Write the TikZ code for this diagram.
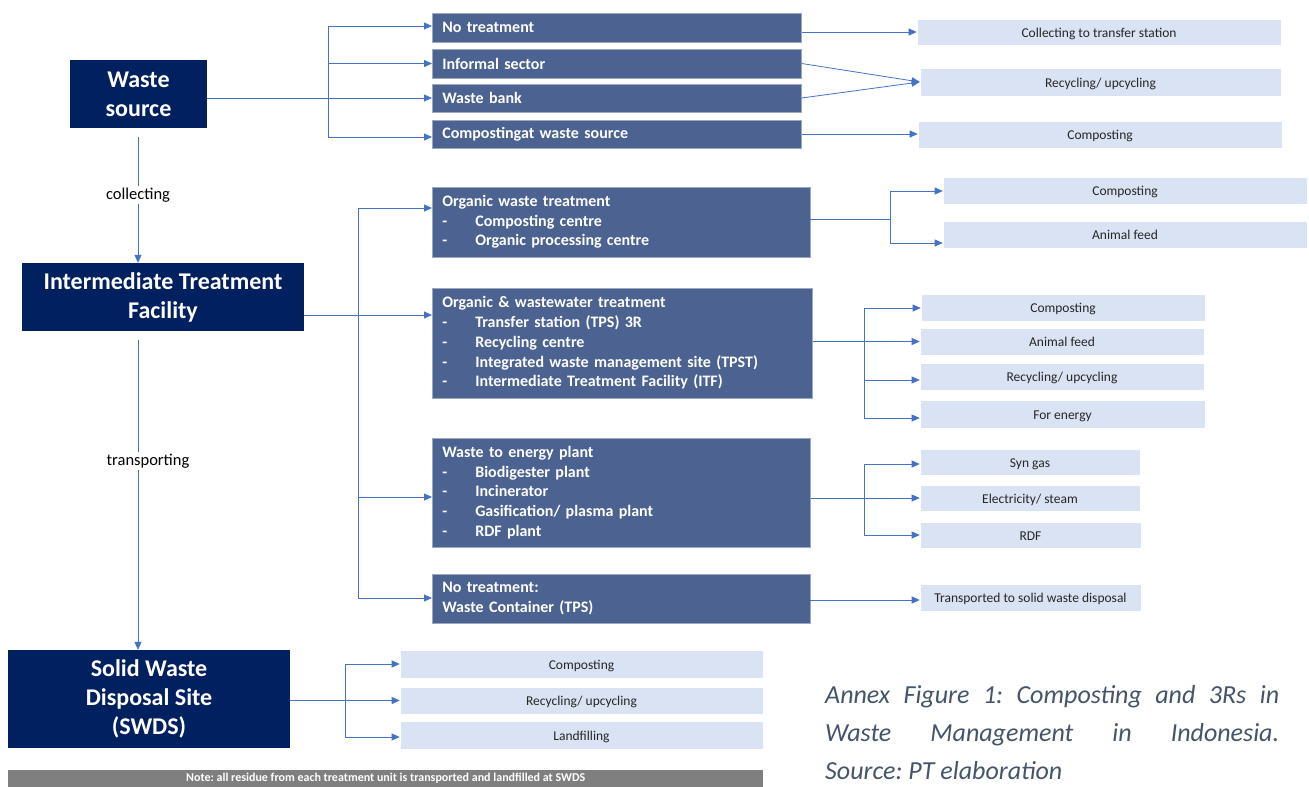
\documentclass[tikz,border=0pt]{standalone}
\usepackage{fontspec}
\setmainfont{Carlito}
\usetikzlibrary{arrows.meta,calc}
\definecolor{navy}{HTML}{002060}
\definecolor{midc}{HTML}{4C6290}
\definecolor{midb}{HTML}{9AA8C4}
\definecolor{lite}{HTML}{DAE3F3}
\definecolor{arrc}{HTML}{4472C4}
\definecolor{capc}{HTML}{44546A}
\definecolor{notec}{HTML}{7F7F7F}
\newcommand{\wmitem}[1]{\makebox[33pt][l]{-}#1}
\frenchspacing
\begin{document}
\begin{tikzpicture}[x=1pt,y=-1pt,
 bigbox/.style={fill=navy, text=white, font=\bfseries\fontsize{24}{29}\selectfont, align=center, inner sep=0pt},
 midbox/.style={fill=midc, draw=midb, line width=0.6pt, text=white, font=\bfseries\fontsize{16}{19.7}\selectfont, align=left, inner xsep=10pt, inner ysep=0pt, anchor=west},
 litebox/.style={fill=lite, draw=white, line width=0.6pt, text=black!85, font=\fontsize{13.5}{16}\selectfont, inner sep=0pt, text height=12pt, text depth=2pt},
 arr/.style={draw=arrc, line width=0.8pt, -{Triangle[length=8pt,width=7pt]}},
 ln/.style={draw=arrc, line width=0.8pt},
 lab/.style={fill=white, text=black, font=\fontsize{16.5}{18}\selectfont, inner sep=2pt},
 capt/.style={anchor=base west, inner sep=0pt, text=capc, font=\itshape\fontsize{26}{30}\selectfont},
]
\useasboundingbox[fill=white] (0,0) rectangle (1309,787);

% main boxes
\node[bigbox, minimum width=137pt, minimum height=68pt] (ws) at (138.5,94) {Waste\\source};
\node[bigbox, minimum width=282pt, minimum height=68pt] (itf) at (163,297) {Intermediate Treatment\\Facility};
\node[bigbox, minimum width=282pt, minimum height=98pt] (swds) at (149,699) {Solid Waste\\Disposal Site\\(SWDS)};

% medium boxes
\node[midbox, text width=349pt, minimum height=29pt] (m1) at (432,27.5) {No treatment};
\node[midbox, text width=349pt, minimum height=29pt] (m2) at (432,63.5) {Informal sector};
\node[midbox, text width=349pt, minimum height=28pt] (m3) at (432,98) {Waste bank};
\node[midbox, text width=349pt, minimum height=28pt] (m4) at (432,134) {Compostingat waste source};
\node[midbox, text width=358pt, minimum height=70pt] (m5) at (432,222) {Organic waste treatment\\\wmitem{Composting centre}\\\wmitem{Organic processing centre}};
\node[midbox, text width=360pt, minimum height=110pt] (m6) at (432,343) {Organic \& wastewater treatment\\\wmitem{Transfer station (TPS) 3R}\\\wmitem{Recycling centre}\\\wmitem{Integrated waste management site (TPST)}\\\wmitem{Intermediate Treatment Facility (ITF)}};
\node[midbox, text width=358pt, minimum height=109pt] (m7) at (432,492.5) {Waste to energy plant\\\wmitem{Biodigester plant}\\\wmitem{Incinerator}\\\wmitem{Gasification/ plasma plant}\\\wmitem{RDF plant}};
\node[midbox, text width=358pt, minimum height=49pt] (m8) at (432,598.5) {No treatment:\\Waste Container (TPS)};

% light boxes
\node[litebox, minimum width=364pt, minimum height=26pt] (r1) at (1099,32) {Collecting to transfer station};
\node[litebox, minimum width=361pt, minimum height=28pt] (r2) at (1100.5,82) {Recycling/ upcycling};
\node[litebox, minimum width=364pt, minimum height=27pt] (r3) at (1100,134.5) {Composting};
\node[litebox, minimum width=364pt, minimum height=27pt] (r4) at (1125,190.5) {Composting};
\node[litebox, minimum width=364pt, minimum height=27pt] (r5) at (1125,234.5) {Animal feed};
\node[litebox, minimum width=284pt, minimum height=27pt] (r6) at (1063,307.5) {Composting};
\node[litebox, minimum width=284pt, minimum height=27pt] (r7) at (1062,341.5) {Animal feed};
\node[litebox, minimum width=284pt, minimum height=27pt] (r8) at (1062,376.5) {Recycling/ upcycling};
\node[litebox, minimum width=285pt, minimum height=28pt] (r9) at (1062.5,414) {For energy};
\node[litebox, minimum width=220pt, minimum height=26pt] (r10) at (1030,462) {Syn gas};
\node[litebox, minimum width=220pt, minimum height=26pt] (r11) at (1030,498) {Electricity/ steam};
\node[litebox, minimum width=221pt, minimum height=26pt] (r12) at (1030.5,535) {RDF};
\node[litebox, minimum width=221pt, minimum height=27pt] (r13) at (1030.5,597.5) {Transported to solid waste disposal};
\node[litebox, minimum width=363pt, minimum height=28pt] (r14) at (581.5,664) {Composting};
\node[litebox, minimum width=363pt, minimum height=27pt] (r15) at (581.5,700.5) {Recycling/ upcycling};
\node[litebox, minimum width=363pt, minimum height=28pt] (r16) at (581.5,735) {Landfilling};

% vertical main flow
\coordinate (v1a) at (138,137);
\coordinate (v2a) at (138,340);
\draw[arr] (v1a) -- (v1a |- itf.north) node[lab, pos=0.46] (lcol) {collecting};
\draw[arr] (v2a) -- (v2a |- swds.north) node[lab, pos=0.39, xshift=10pt] (ltra) {transporting};

% group 1
\coordinate (b1top) at (328,26);
\coordinate (b1bot) at (328,137);
\draw[ln] (b1top) -- (b1bot);
\draw[arr] (b1top) -- (b1top -| m1.west);
\draw[arr] (b1top |- m2.west) -- (m2.west);
\draw[arr] (ws.east |- m3.west) -- (m3.west);
\draw[arr] (b1bot) -- (b1bot -| m4.west);
\draw[arr] (m1.east |- r1.west) -- (r1.west);
\draw[arr] (m2.east) -- (r2.west);
\draw[arr] (m3.east) -- (r2.west);
\draw[arr] (m4.east) -- (m4.east -| r3.west);

% group 2
\coordinate (b2top) at (358,208);
\coordinate (b2bot) at (358,598);
\coordinate (itfout) at (304,315);
\coordinate (c7) at (358,497);
\draw[ln] (b2top) -- (b2bot);
\draw[arr] (b2top) -- (b2top -| m5.west);
\draw[arr] (itfout) -- (itfout -| m6.west);
\draw[arr] (c7) -- (c7 -| m7.west);
\draw[arr] (b2bot) -- (b2bot -| m8.west);

% organic waste outputs
\coordinate (m5o) at (810,219);
\coordinate (b3top) at (890,191);
\coordinate (b3bot) at (890,243);
\draw[ln] (m5o) -- (m5o -| b3top);
\draw[ln] (b3top) -- (b3bot);
\draw[arr] (b3top) -- (b3top -| r4.west);
\draw[arr] (b3bot) -- (b3bot -| r5.west);

% organic & wastewater outputs
\coordinate (b4top) at (864,308);
\coordinate (b4c) at (864,380);
\coordinate (b4bot) at (864,418);
\draw[arr] (m6.east |- r7.west) -- (r7.west);
\draw[ln] (b4top) -- (b4bot);
\draw[arr] (b4top) -- (b4top -| r6.west);
\draw[arr] (b4c) -- (b4c -| r8.west);
\draw[arr] (b4bot) -- (b4bot -| r9.west);

% waste to energy outputs
\coordinate (b5top) at (864,464);
\coordinate (b5bot) at (864,535);
\draw[arr] (m7.east |- r11.west) -- (r11.west);
\draw[ln] (b5top) -- (b5bot);
\draw[arr] (b5top) -- (b5top -| r10.west);
\draw[arr] (b5bot) -- (b5bot -| r12.west);

% no treatment output
\coordinate (m8o) at (810,600);
\draw[arr] (m8o) -- (m8o -| r13.west);

% SWDS outputs
\coordinate (b6top) at (345,664);
\coordinate (b6bot) at (345,737);
\draw[arr] (swds.east |- r15.west) -- (r15.west);
\draw[ln] (b6top) -- (b6bot);
\draw[arr] (b6top) -- (b6top -| r14.west);
\draw[arr] (b6bot) -- (b6bot -| r16.west);

% note bar
\node[fill=notec, minimum width=755pt, minimum height=17pt, inner sep=0pt, anchor=north west, text=white, font=\bfseries\fontsize{12}{12}\selectfont] (note) at (8,770) {\raisebox{-3pt}{Note: all residue from each treatment unit is transported and landfilled at SWDS}};

% caption
\node[capt] (cap1) at (825,703) {\makebox[454pt][s]{Annex Figure 1: Composting and 3Rs in}};
\node[capt] (cap2) at (825,741) {\makebox[454pt][s]{Waste Management in Indonesia.}};
\node[capt] (cap3) at (825,779) {Source: PT elaboration};
\end{tikzpicture}
\end{document}
